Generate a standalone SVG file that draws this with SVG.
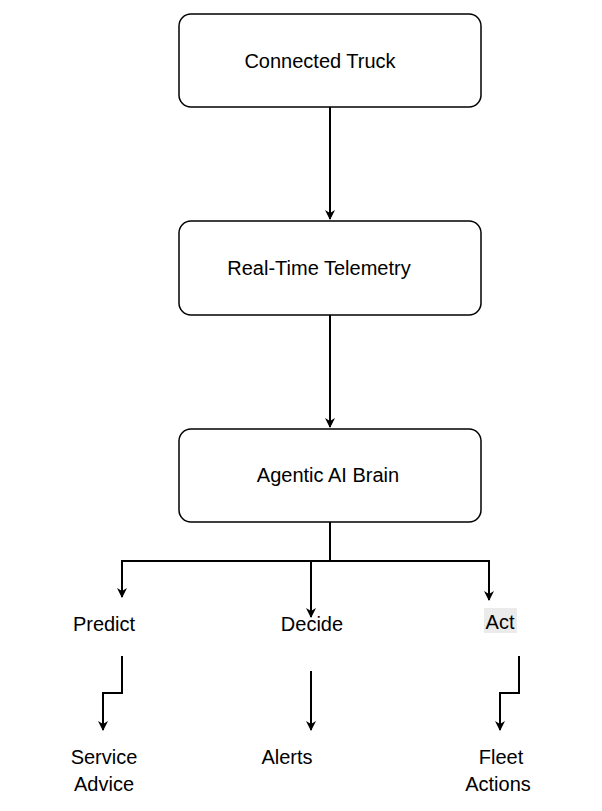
<svg xmlns="http://www.w3.org/2000/svg" width="602" height="811" viewBox="0 0 602 811">
<style>
.box{fill:#fff;stroke:#000;stroke-width:1.5}
.t{font-family:"Liberation Sans",Arial,sans-serif;font-size:20px;fill:#000;text-anchor:middle}
.c{fill:none;stroke:#000;stroke-width:2;marker-end:url(#a)}
</style>
<defs><marker id="a" viewBox="0 0 10 10" refX="9" refY="5" markerWidth="5" markerHeight="5" orient="auto" markerUnits="strokeWidth"><path d="M0,0 L10,5 L0,10 L3,5 Z" fill="#000"/></marker></defs>
<rect width="602" height="811" fill="#fff"/>
<g id="connectors">
<path class="c" d="M330,107 V219"/>
<path class="c" d="M330,315 V427"/>
<path class="c" d="M330,522 V561 H122 V597" style="marker-end:url(#a)"/>
<path class="c" d="M330,561 H311 V617"/>
<path class="c" d="M330,561 H489 V600"/>
<path class="c" d="M122,656 V693 H103 V730"/>
<path class="c" d="M311,671 V730"/>
<path class="c" d="M519,656 V693 H500 V730"/>
</g>
<g id="truck"><rect class="box" x="179" y="14" width="302" height="93" rx="12"/><text class="t" x="320" y="68">Connected Truck</text></g>
<g id="telemetry"><rect class="box" x="179" y="221" width="302" height="94" rx="12"/><text class="t" x="319" y="275">Real-Time Telemetry</text></g>
<g id="brain"><rect class="box" x="179" y="429" width="302" height="93" rx="12"/><text class="t" x="328" y="482">Agentic AI Brain</text></g>
<g id="predict"><text class="t" x="104" y="631">Predict</text></g>
<g id="decide"><text class="t" x="312" y="631">Decide</text></g>
<g id="act"><rect x="484" y="608" width="33" height="25" fill="#ebebeb"/><text class="t" x="500" y="629">Act</text></g>
<g id="service"><text class="t" x="104" y="764">Service</text><text class="t" x="104" y="791">Advice</text></g>
<g id="alerts"><text class="t" x="287" y="764">Alerts</text></g>
<g id="fleet"><text class="t" x="501" y="764">Fleet</text><text class="t" x="498" y="791">Actions</text></g>
</svg>
